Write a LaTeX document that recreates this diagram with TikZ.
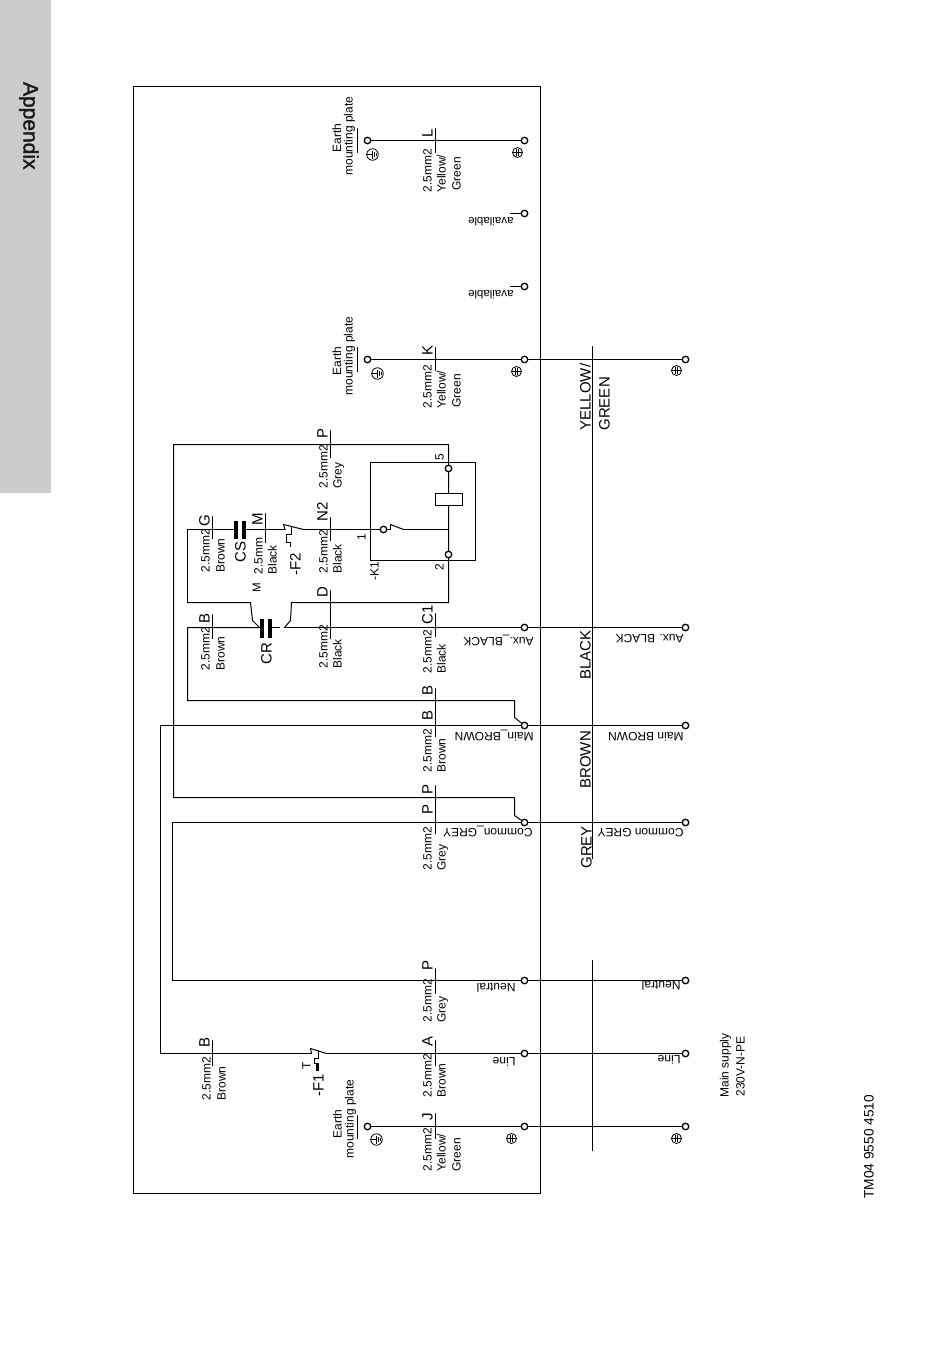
\documentclass[tikz,border=0pt]{standalone}
\usepackage{fontspec}
\setmainfont{Liberation Sans}
\newfontfamily\appfont[FakeBold=1.5]{Liberation Sans}
\newcounter{lab}
\tikzset{
  wire/.style={line width=1pt,black,line cap=round,line join=round},
  squiggle/.style={line width=1.8pt,black,line join=miter,line cap=butt},
  term/.style={circle,draw=black,fill=white,line width=1.3pt,minimum size=6.5pt,inner sep=0pt},
  txt/.style={inner sep=0pt,outer sep=0pt,text=black},
  earthring/.style={circle,draw=black,line width=.8pt,minimum size=11.5pt,inner sep=0pt},
  capplate/.style={fill=black,draw=none}
}
% rotated text reading upward: baseline x, bottom y, size, text
\newcommand\vt[4]{\stepcounter{lab}\node[txt,rotate=90,anchor=base west,font=\fontsize{#3}{#3}\selectfont] (lab\arabic{lab}) at (#1,#2) {#4};}
% upside-down text: right end x, baseline y, size, text
\newcommand\ut[4]{\stepcounter{lab}\node[txt,rotate=180,anchor=base west,font=\fontsize{#3}{#3}\selectfont] (lab\arabic{lab}) at (#1,#2) {#4};}
% earth symbols
\newcommand\earthl[3]{\node[earthring] (#1) at (#2,#3) {};
  \draw[line width=.8pt] (#1.west) -- (#1.center) (#1.center)+(0,-4) -- +(0,4) (#1.center)+(2,-2.8) -- +(2,2.8) (#1.center)+(4,-1.2) -- +(4,1.2);}
\newcommand\earthr[3]{\node[earthring,minimum size=10pt] (#1) at (#2,#3) {};
  \draw[line width=.8pt] (#1.west) -- (#1.east) (#1.center)+(-.8,-3.6) -- +(-.8,3.6) (#1.center)+(.8,-3.6) -- +(.8,3.6);}
% wire bar
\newcommand\tickbar[3]{\draw[wire] (#1,#2) -- (#1,#3);}
\begin{document}
\begin{tikzpicture}[x=1pt,y=-1pt]
\useasboundingbox (0,0) rectangle (950,1347);
\fill[black!20] (0,0) rectangle (51,493);
\node[txt,rotate=-90,anchor=base west,font=\appfont\fontsize{21}{21}\selectfont,text=black!90] (appendix) at (23.5,82) {Appendix};
\begin{scope}[shift={(0.5,0.5)}]
\draw[line width=1pt] (133,86) rectangle (540,1193);

% terminals
\foreach \n/\x/\y in {eL/367/140,tL/524/140,tA1/524/213,tA2/524/286,eK/367/359,tK/524/359,sK/685/359,
  tC/524/627,sC/685/627,tB/524/725,sB/685/725,tG/524/822,sG/685/822,
  tN/524/980,sN/685/980,tLi/524/1053,sLi/685/1053,eJ/367/1126,tJ/524/1126,sJ/685/1126,
  k1/383/529}
  {\node[term] (\n) at (\x,\y) {};}

% free wire corners
\coordinate (p1) at (173,444); \coordinate (p2) at (448,444);
\coordinate (p3) at (173,797); \coordinate (p4) at (514,797); \coordinate (p5) at (514,815);
\coordinate (q1) at (172,822); \coordinate (q2) at (172,980);
\coordinate (b1) at (160,725); \coordinate (b2) at (160,1053);
\coordinate (f1a) at (310,1053); \coordinate (f1b) at (326,1053);
\coordinate (c1) at (187,700); \coordinate (c2) at (514,700); \coordinate (c3) at (514,717);
\coordinate (c4) at (187,627); \coordinate (c5) at (259,627); \coordinate (c6) at (271,627);
\coordinate (c7) at (279,627); \coordinate (c8) at (284,627);
\coordinate (d1) at (187,602); \coordinate (d2) at (187,529); \coordinate (d3) at (233,529);
\coordinate (d4) at (245,529); \coordinate (d5) at (285,529); \coordinate (d6) at (303,529);
\coordinate (d7) at (403,529); \coordinate (d8) at (448,529);
\coordinate (e1) at (250,602); \coordinate (e2) at (252,620);
\coordinate (g1) at (291,602); \coordinate (g2) at (290,620); \coordinate (g3) at (448,602);

% wires
\draw[wire] (eL) -- (tL);
\draw[wire] (tA1.west) -- +(-10,0);
\draw[wire] (tA2.west) -- +(-10,0);
\draw[wire] (eK) -- (tK) -- (sK);
\draw[wire] (p3) -- (p1) -- (p2) -- (g3) -- (g1) -- (g2) -- (c8);
\draw[wire] (p3) -- (p4) -- (p5) -- (tG);
\draw[wire] (q2) -- (q1) -- (tG) -- (sG);
\draw[wire] (q2) -- (tN) -- (sN);
\draw[wire] (tLi) -- (sLi);
\draw[wire] (sB) -- (tB) -- (b1) -- (b2) -- (f1a);
\draw[wire] (f1b) -- (tLi);
\draw[wire] (c8) -- (tC) -- (sC);
\draw[wire] (c5) -- (c4) -- (c1) -- (c2) -- (c3) -- (tB);
\draw[wire] (d1) -- (d2) -- (d3);
\draw[wire] (d1) -- (e1) -- (e2) -- (c5);
\draw[wire] (c6) -- (c7);
\draw[wire] (d4) -- (d5);
\draw[wire] (d6) -- (k1);
\draw[wire] (d7) -- (d8);
\draw[wire] (eJ) -- (tJ) -- (sJ);

% supply cross bars
\tickbar{592}{346}{858}
\tickbar{592}{960}{1150}

% capacitors
\fill[capplate] (233,520) rectangle (237,538);
\fill[capplate] (241,520) rectangle (245,538);
\fill[capplate] (259,618) rectangle (263,637);
\fill[capplate] (267,618) rectangle (271,637);

% F2 thermal switch
\draw[wire] (283,524) -- (303,529);
\draw[wire] (283,524) -- (284.5,529);
\draw[squiggle] (291,526.5) -- (291,534) -- (286,534) -- (286,542) -- (290,542) -- (290,546);
% F1 thermal switch
\draw[wire] (310,1048) -- (326,1053);
\draw[wire] (310,1048) -- (311,1053);
\draw[squiggle] (318,1050.5) -- (318,1058) -- (314,1058) -- (314,1063) -- (317,1063);
\draw[line width=3pt] (317,1062) -- (317,1070);
% relay
\draw[line width=1pt] (370,462) rectangle (475,560);
\node[draw=black,fill=white,line width=1pt,minimum width=27pt,minimum height=12pt,inner sep=0pt] (coil) at (448.5,499) {};
\node[term] (k5) at (448,468) {};
\node[term] (k2) at (448,554) {};
\draw[wire] (k1) -- (390,529) -- (390,524);
\draw[wire] (390,524) -- (d7);

% marker bars
\tickbar{357}{128}{152}
\tickbar{435}{128}{152}
\tickbar{357}{347}{371}
\tickbar{435}{347}{370}
\tickbar{357}{1115}{1138}
\tickbar{435}{1113}{1138}
\tickbar{435}{968}{993}
\tickbar{435}{1040}{1065}
\tickbar{435}{613}{636}
\tickbar{435}{688}{736}
\tickbar{435}{785}{833}
\tickbar{212}{516}{538}
\tickbar{212}{614}{638}
\tickbar{212}{1040}{1065}
\tickbar{265}{513}{542}
\tickbar{330}{430}{457}
\tickbar{330}{517}{540}
\tickbar{330}{590}{638}

% earth symbols
\earthl{gL}{372}{154}
\earthl{gK}{377}{373}
\earthl{gJ}{376}{1139}
\earthr{pL}{517}{152}
\earthr{pK}{516}{371}
\earthr{pJ}{511}{1138}
\earthr{pS}{676}{370}
\earthr{pT}{676}{1138}

% letters
\vt{432}{137}{15}{L}
\vt{432}{355}{15}{K}
\vt{432}{970}{15}{P}
\vt{432}{1046}{15}{A}
\vt{432}{1120}{15}{J}
\vt{432}{624}{15}{C1}
\vt{432}{695}{15}{B}
\vt{432}{720}{15}{B}
\vt{432}{794}{15}{P}
\vt{432}{814}{15}{P}
\vt{209}{526}{15}{G}
\vt{209}{623}{15}{B}
\vt{209}{1047}{15}{B}
\vt{262}{525}{15}{M}
\vt{327}{438}{15}{P}
\vt{327}{521}{15}{N2}
\vt{327}{597}{15}{D}
\vt{245}{562}{15}{CS}
\vt{271}{664}{15}{CR}
\vt{300}{575}{15}{-F2}
\vt{323}{1096}{15}{-F1}
\vt{310}{1069}{12}{T}
\vt{378}{580}{12}{-K1}
\vt{365}{540}{12}{1}
\vt{443}{460}{12}{5}
\vt{443}{570}{12}{2}
\vt{260}{592}{11.5}{M}

% wire notes
\vt{431}{192}{12}{2.5mm2} \vt{445}{192}{12}{Yellow/} \vt{460}{190}{12}{Green}
\vt{431}{408}{12}{2.5mm2} \vt{445}{408}{12}{Yellow/} \vt{460}{407}{12}{Green}
\vt{431}{1171}{12}{2.5mm2} \vt{445}{1171}{12}{Yellow/} \vt{460}{1171}{12}{Green}
\vt{431}{1097}{12}{2.5mm2} \vt{445}{1097}{12}{Brown}
\vt{431}{1022}{12}{2.5mm2} \vt{445}{1022}{12}{Grey}
\vt{431}{870}{12}{2.5mm2} \vt{445}{870}{12}{Grey}
\vt{431}{772}{12}{2.5mm2} \vt{445}{772}{12}{Brown}
\vt{431}{673}{12}{2.5mm2} \vt{445}{673}{12}{Black}
\vt{209}{572}{12}{2.5mm2} \vt{224}{572}{12}{Brown}
\vt{209}{670}{12}{2.5mm2} \vt{224}{670}{12}{Brown}
\vt{210}{1100}{12}{2.5mm2} \vt{225}{1100}{12}{Brown}
\vt{262}{574}{12}{2.5mm} \vt{276}{574}{12}{Black}
\vt{327}{488}{12}{2.5mm2} \vt{341}{488}{12}{Grey}
\vt{327}{573}{12}{2.5mm2} \vt{341}{573}{12}{Black}
\vt{327}{668}{12}{2.5mm2} \vt{341}{668}{12}{Black}

% earth plate notes
\vt{340.5}{152}{12}{Earth} \vt{352}{175}{12}{mounting plate}
\vt{340.5}{375}{12}{Earth} \vt{352}{395}{12}{mounting plate}
\vt{341}{1138}{12}{Earth} \vt{353}{1158}{12}{mounting plate}

% upside-down terminal notes
\ut{513}{217}{11.5}{available}
\ut{513}{290}{11.5}{available}
\ut{533}{637}{12}{Aux.\_BLACK}
\ut{533}{732}{12}{Main\_BROWN}
\ut{532}{828}{12}{Common\_GREY}
\ut{515}{983}{12}{Neutral}
\ut{515}{1057}{12}{Line}
\ut{683}{634}{12}{Aux. BLACK}
\ut{683}{732}{12}{Main BROWN}
\ut{683}{828}{12}{Common GREY}
\ut{680}{981}{12}{Neutral}
\ut{680}{1055}{12}{Line}

% big colour labels
\vt{590}{430}{15}{YELLOW/}
\vt{609}{430}{15}{GREEN}
\vt{590}{679}{15}{BLACK}
\vt{590}{788}{15}{BROWN}
\vt{591}{868}{15}{GREY}

% supply and ref
\vt{728}{1097}{12}{Main supply}
\vt{744}{1096}{12}{230V-N-PE}
\vt{873}{1198}{13.7}{TM04 9550 4510}
\end{scope}
\end{tikzpicture}
\end{document}
